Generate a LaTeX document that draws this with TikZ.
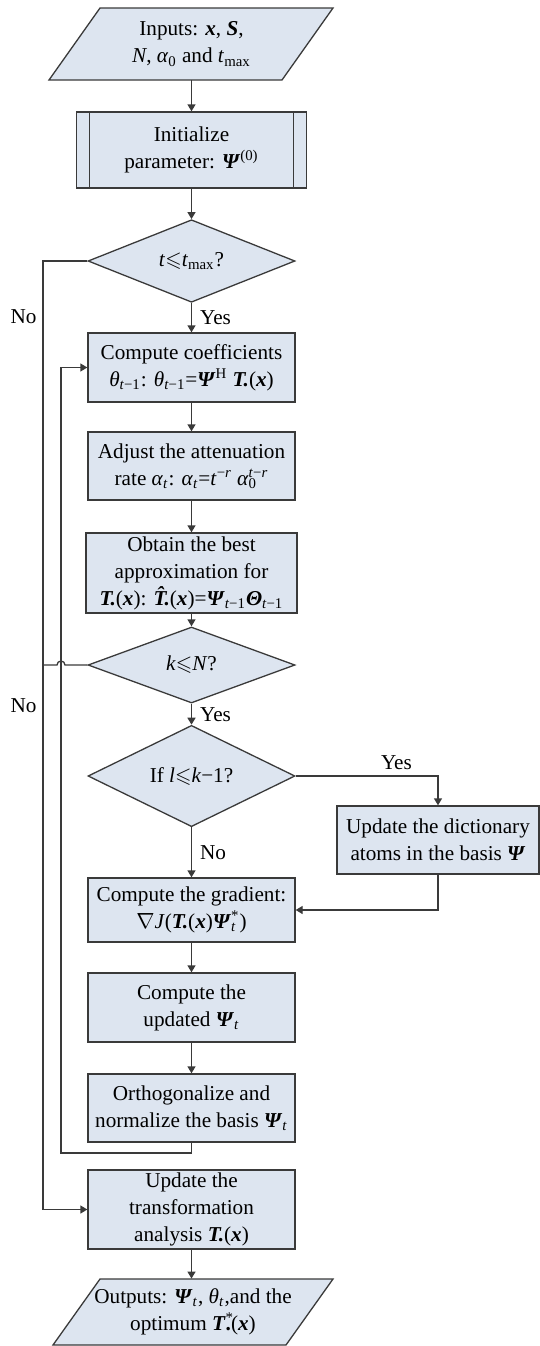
\documentclass[tikz,border=0pt]{standalone}
\usepackage{amssymb}
\usepackage{fontspec}
\setmainfont{Liberation Serif}
\usetikzlibrary{arrows.meta,shapes.geometric}
\definecolor{boxfill}{RGB}{221,229,240}
\definecolor{edge}{RGB}{58,58,58}
\newcommand{\bsym}[1]{\textbf{\textit{#1}}}
\newcommand{\isym}[1]{\textit{#1}}
\newcommand{\lw}[1]{\textsubscript{#1}}
\newcommand{\hg}[1]{\textsuperscript{#1}}
\tikzset{
  every picture/.style={font=\fontsize{10.6}{13.5}\selectfont},
  proc/.style={draw=edge,fill=boxfill,line width=0.65pt,minimum width=103.5pt,align=center,inner sep=1pt},
  dec/.style={diamond,draw=edge,fill=boxfill,line width=0.65pt,minimum width=103.5pt,inner sep=0pt},
  io/.style={draw=edge,fill=boxfill,line width=0.65pt},
  iotext/.style={align=center,inner sep=0pt},
  flow/.style={draw=edge,line width=0.65pt,-{Triangle[length=3.5pt,width=4pt]}},
  wire/.style={draw=edge,line width=0.65pt},
  tag/.style={inner sep=0pt},
}
\begin{document}
\begin{tikzpicture}[x=0.5pt,y=-0.5pt]
  \useasboundingbox (0,0) rectangle (540,1346);
  % inputs
  \draw[io] (100,8) -- (333,8) -- (282,80) -- (49,80) -- cycle;
  \node[iotext,minimum height=36pt] (in) at (191.5,44) {Inputs: \bsym{x}, \bsym{S},\\\isym{N}, \isym{α}\lw{0} and \isym{t}\lw{max}};
  \node[proc,minimum width=115pt,minimum height=38pt] (init) at (191.5,150) {Initialize\\parameter: \bsym{Ψ}\hg{(0)}};
  \draw[wire] ([xshift=6.75pt]init.north west) -- ([xshift=6.75pt]init.south west);
  \draw[wire] ([xshift=-6.75pt]init.north east) -- ([xshift=-6.75pt]init.south east);
  \node[dec,minimum height=38pt] (tmax) at (191.5,261) {\isym{t}$\leqslant$\isym{t}\lw{max}?};
  \node[proc,minimum height=34.5pt] (coef) at (191.5,367.5) {Compute coefficients\\\isym{θ}\lw{\isym{t}−1}: \isym{θ}\lw{\isym{t}−1}=\bsym{Ψ}\hg{H} \bsym{T.}(\bsym{x})};
  \node[proc,minimum height=34pt] (rate) at (191.5,466) {Adjust the attenuation\\rate \isym{α}\lw{\isym{t}}: \isym{α}\lw{\isym{t}}=\isym{t}\hg{−\isym{r}} \isym{α}\rlap{\lw{0}}\hg{\isym{t}−\isym{r}}};
  \node[proc,minimum width=105.5pt,minimum height=40pt] (best) at (191.5,573) {Obtain the best\\approximation for\\\bsym{T.}(\bsym{x}): \bsym{\^{T}.}(\bsym{x})=\bsym{Ψ}\lw{\isym{t}−1}\bsym{Θ}\lw{\isym{t}−1}};
  \node[dec,minimum height=38pt] (kN) at (191.5,665) {\isym{k}$\leqslant$\isym{N}?};
  \node[dec,minimum height=39pt] (lk) at (191.5,776) {If \isym{l}$\leqslant$\isym{k}−1?};
  \node[proc,minimum width=101pt,minimum height=34pt] (dict) at (438,840) {Update the dictionary\\atoms in the basis \bsym{Ψ}};
  \node[proc,minimum height=32pt] (grad) at (191.5,910) {Compute the gradient:\\$\nabla$\isym{J}(\bsym{T.}(\bsym{x})\bsym{Ψ}\rlap{\lw{\isym{t}}}\hg{*})};
  \node[proc,minimum height=34.5pt] (upd) at (191.5,1007.5) {Compute the\\updated \bsym{Ψ}\lw{\isym{t}}};
  \node[proc,minimum height=34pt] (orth) at (191.5,1108) {Orthogonalize and\\normalize the basis \bsym{Ψ}\lw{\isym{t}}};
  \node[proc,minimum height=39.5pt] (trans) at (191.5,1209.5) {Update the\\transformation\\analysis \bsym{T.}(\bsym{x})};
  % outputs
  \draw[io] (100,1279) -- (333,1279) -- (286,1345) -- (53,1345) -- cycle;
  \node[iotext,minimum height=33pt] (out) at (193,1312) {Outputs: \bsym{Ψ}\lw{\isym{t}}, \isym{θ}\lw{\isym{t}},and the\\optimum \bsym{T}\rlap{\hg{*}}\textbf{.}(\bsym{x})};
  % labels
  \node[tag,anchor=east] (noT) at (37,317) {No};
  \node[tag,anchor=east] (noK) at (37,706) {No};
  % connectors
  \coordinate (outerT) at (43,261);
  \coordinate (loopB) at (61,1153);
  \coordinate (hop) at (65,665);
  \coordinate (merge) at (43,665);
  \draw[flow] (in.south) -- (init);
  \draw[flow] (init) -- (tmax);
  \draw[flow] (tmax) -- node[tag,right=4pt] (yesT) {Yes} (coef);
  \draw[flow] (coef) -- (rate);
  \draw[flow] (rate) -- (best);
  \draw[flow] (best) -- (kN);
  \draw[flow] (kN) -- node[tag,right=4pt] (yesK) {Yes} (lk);
  \draw[flow] (lk) -- node[tag,right=4pt] (noL) {No} (grad);
  \draw[flow] (lk.east) -| node[tag,pos=0.354,above=3pt] (yesL) {Yes} (dict.north);
  \draw[flow] (dict.south) |- (grad.east);
  \draw[flow] (grad) -- (upd);
  \draw[flow] (upd) -- (orth);
  \draw[flow] (orth.south) |- (loopB) |- (coef.west);
  \draw[flow] (tmax.west) -- (outerT) |- (trans.west);
  \draw[wire] (kN.west) -- (hop) arc[start angle=0,end angle=180,radius=2pt] -- (merge);
  \draw[flow] (trans.south) -- (trans.south |- out.north);
\end{tikzpicture}
\end{document}
